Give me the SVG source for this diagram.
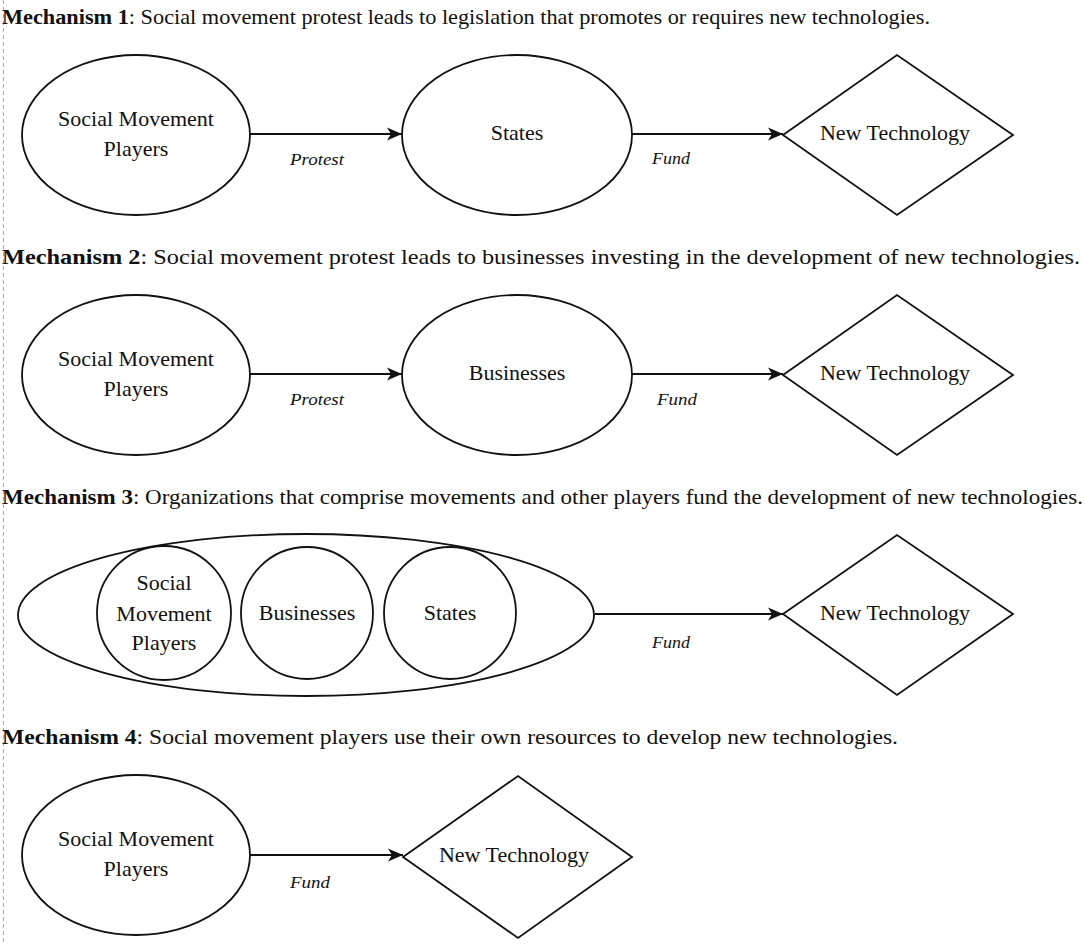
<svg xmlns="http://www.w3.org/2000/svg" width="1085" height="945" viewBox="0 0 1085 945">
<style>
text{font-family:"Liberation Serif","Times New Roman",Tinos,"Nimbus Roman","Nimbus Roman No9 L",FreeSerif,Times,serif;fill:#111}
.t{font-size:21px}
.b{font-weight:bold}
.n{font-size:22px;text-anchor:middle}
.e{font-size:17px;font-style:italic}
.s{fill:#fff;stroke:#111;stroke-width:1.8}
.c{fill:none;stroke:#111;stroke-width:1.8}
</style>
<defs>
<marker id="arr" markerUnits="userSpaceOnUse" markerWidth="18" markerHeight="16" refX="15" refY="8" orient="auto">
<path d="M0,1.5 L15,8 L0,14.5 L4,8 Z" fill="#111"/>
</marker>
</defs>
<line x1="3.5" y1="0" x2="3.5" y2="945" stroke="#aaa" stroke-width="1" stroke-dasharray="4 3"/>
<g id="titles">
<text class="t" x="2" y="24" textLength="928" lengthAdjust="spacingAndGlyphs"><tspan class="b">Mechanism 1</tspan>: Social movement protest leads to legislation that promotes or requires new technologies.</text>
<text class="t" x="2" y="264" textLength="1078" lengthAdjust="spacingAndGlyphs"><tspan class="b">Mechanism 2</tspan>: Social movement protest leads to businesses investing in the development of new technologies.</text>
<text class="t" x="2" y="504" textLength="1081" lengthAdjust="spacingAndGlyphs"><tspan class="b">Mechanism 3</tspan>: Organizations that comprise movements and other players fund the development of new technologies.</text>
<text class="t" x="2" y="744" textLength="896" lengthAdjust="spacingAndGlyphs"><tspan class="b">Mechanism 4</tspan>: Social movement players use their own resources to develop new technologies.</text>
</g>
<g id="connectors">
<line class="c" x1="250" y1="134" x2="402" y2="134" marker-end="url(#arr)"/>
<line class="c" x1="632" y1="134" x2="783" y2="134" marker-end="url(#arr)"/>
<line class="c" x1="250" y1="374" x2="402" y2="374" marker-end="url(#arr)"/>
<line class="c" x1="632" y1="374" x2="783" y2="374" marker-end="url(#arr)"/>
<line class="c" x1="595" y1="614" x2="783" y2="614" marker-end="url(#arr)"/>
<line class="c" x1="250" y1="855" x2="403" y2="855" marker-end="url(#arr)" />
<line x1="231" y1="613" x2="242" y2="613" stroke="#111" stroke-width="3.5"/>
<line x1="373" y1="613" x2="384" y2="613" stroke="#111" stroke-width="3.5"/>
<text class="e" x="290" y="165" textLength="54" lengthAdjust="spacingAndGlyphs">Protest</text>
<text class="e" x="652" y="164" textLength="38" lengthAdjust="spacingAndGlyphs">Fund</text>
<text class="e" x="290" y="405" textLength="54" lengthAdjust="spacingAndGlyphs">Protest</text>
<text class="e" x="657" y="405" textLength="40" lengthAdjust="spacingAndGlyphs">Fund</text>
<text class="e" x="652" y="648" textLength="38" lengthAdjust="spacingAndGlyphs">Fund</text>
<text class="e" x="290" y="888" textLength="40" lengthAdjust="spacingAndGlyphs">Fund</text>
</g>
<g id="m1-smp">
<ellipse class="s" cx="136" cy="135" rx="114" ry="80"/>
<text class="n" x="136" y="126">Social Movement</text>
<text class="n" x="136" y="156">Players</text>
</g>
<g id="m1-states">
<ellipse class="s" cx="517" cy="135" rx="115" ry="80"/>
<text class="n" x="517" y="140">States</text>
</g>
<g id="m1-tech">
<polygon class="s" points="783,135 897,55 1013,135 897,215"/>
<text class="n" x="895" y="140">New Technology</text>
</g>
<g id="m2-smp">
<ellipse class="s" cx="136" cy="375" rx="114" ry="80"/>
<text class="n" x="136" y="366">Social Movement</text>
<text class="n" x="136" y="396">Players</text>
</g>
<g id="m2-businesses">
<ellipse class="s" cx="517" cy="375" rx="115" ry="80"/>
<text class="n" x="517" y="380">Businesses</text>
</g>
<g id="m2-tech">
<polygon class="s" points="783,375 897,295 1013,375 897,455"/>
<text class="n" x="895" y="380">New Technology</text>
</g>
<g id="m3-orgs">
<ellipse class="s" cx="306" cy="615" rx="288" ry="81"/>
</g>
<g id="m3-smp">
<circle class="s" cx="164" cy="613" r="67"/>
<text class="n" x="164" y="590">Social</text>
<text class="n" x="164" y="621">Movement</text>
<text class="n" x="164" y="650">Players</text>
</g>
<g id="m3-businesses">
<circle class="s" cx="307" cy="613" r="66"/>
<text class="n" x="307" y="620">Businesses</text>
</g>
<g id="m3-states">
<circle class="s" cx="450" cy="613" r="66"/>
<text class="n" x="450" y="620">States</text>
</g>
<g id="m3-tech">
<polygon class="s" points="783,614 897,535 1013,614 897,695"/>
<text class="n" x="895" y="620">New Technology</text>
</g>
<g id="m4-smp">
<ellipse class="s" cx="136" cy="855" rx="114" ry="80"/>
<text class="n" x="136" y="846">Social Movement</text>
<text class="n" x="136" y="876">Players</text>
</g>
<g id="m4-tech">
<polygon class="s" points="403,857 518,776 632,857 518,938"/>
<text class="n" x="514" y="862">New Technology</text>
</g>
</svg>
